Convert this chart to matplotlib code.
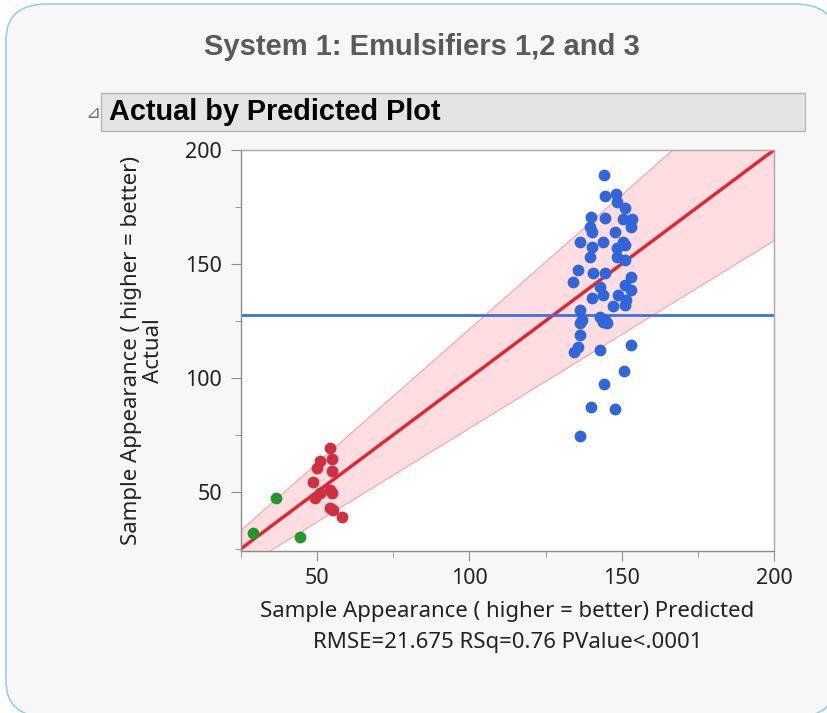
import matplotlib.pyplot as plt
import matplotlib.patches as mpatches
import numpy as np
from matplotlib.ticker import MultipleLocator

# Actual vs predicted, three emulsifier groups
green_pred = [28.9, 36.5, 44.4]
green_act = [31.9, 47.2, 30.1]

red_pred = [54.3, 54.8, 50.8, 50.1, 54.8, 48.8, 50.8, 49.3, 54.3, 54.8, 54.3, 55.3, 58.1]
red_act = [69.2, 64.3, 63.3, 60.4, 58.9, 54.5, 49.4, 47.2, 50.9, 49.4, 42.9, 42.1, 38.9]

blue_pred = [144.1, 144.4, 148.0, 148.4, 151.0, 139.8, 144.4, 150.5, 153.4, 153.2,
             139.5, 147.7, 140.1, 136.2, 143.9, 150.5, 140.1, 148.3, 151.0, 139.5,
             148.3, 151.0, 135.7, 140.6, 144.4, 153.2, 134.1, 142.8, 151.0, 153.2,
             143.9, 140.1, 148.8, 151.5, 147.2, 151.0, 136.2, 136.8, 142.8, 144.4,
             136.2, 143.9, 145.3, 136.2, 135.7, 134.4, 143.0, 153.2, 150.8, 144.1,
             139.8, 147.9, 136.2]
blue_act = [189.0, 179.8, 180.6, 177.3, 174.7, 170.8, 170.0, 169.6, 169.6, 166.4,
            166.4, 164.2, 164.2, 159.8, 159.8, 159.8, 157.6, 156.9, 158.3, 153.2,
            153.2, 151.8, 147.4, 145.9, 146.2, 144.4, 142.2, 140.0, 140.8, 138.6,
            136.4, 135.0, 136.4, 134.2, 131.6, 132.0, 129.8, 125.4, 126.9, 125.4,
            124.0, 124.7, 124.0, 118.9, 113.7, 111.3, 112.0, 114.5, 102.8, 97.4,
            87.1, 86.4, 74.3]

mean_actual = 127.6
# confidence band half-width at the ends of the x range
band_x = [25, 200]
band_half = [8.5, 39.5]

fig = plt.figure(figsize=(8.28, 7.13), dpi=100)
fig.patch.set_facecolor('white')

# rounded panel, running off the right and bottom edges
panel = mpatches.FancyBboxPatch((6 / 828, -4 / 713), 830 / 828, 713 / 713,
                                boxstyle='round,pad=0,rounding_size=0.05',
                                transform=fig.transFigure, facecolor='#f7f7f7',
                                edgecolor='#8fd3e6', linewidth=1.2, zorder=-3)
fig.patches.append(panel)

fig.text(0.51, 1 - 47 / 713, 'System 1: Emulsifiers 1,2 and 3', ha='center', va='center',
         fontsize=21, fontweight='bold', color='#5a5a5a', family='Liberation Sans')

# report header bar
bar = mpatches.Rectangle((101 / 828, 1 - 131 / 713), 704 / 828, 38 / 713,
                         transform=fig.transFigure, facecolor='#e4e4e4',
                         edgecolor='#b4b4b4', linewidth=1.0, zorder=-2)
fig.patches.append(bar)
fig.text(109 / 828, 1 - 112 / 713, 'Actual by Predicted Plot', ha='left', va='center',
         fontsize=20.8, fontweight='bold', color='black', family='Liberation Sans')
fig.text(93 / 828, 1 - 113 / 713, '\u22bf', ha='center', va='center',
         fontsize=13, color='#707070', family='DejaVu Sans')

ax = fig.add_axes([241 / 828, 1 - 551 / 713, 533 / 828, 401 / 713])
ax.set_facecolor('white')
ax.set_xlim(25, 200)
ax.set_ylim(24, 200)

bx = np.array(band_x, dtype=float)
bh = np.array(band_half, dtype=float)
ax.fill_between(bx, bx - bh, bx + bh, facecolor='#ffdde0', edgecolor='#f2a3aa',
                linewidth=0.8, zorder=1)
ax.plot(bx, bx, color='#e8222e', linewidth=2.4, zorder=2)
ax.axhline(mean_actual, color='#3f70e0', linewidth=2.0, zorder=2)

ax.scatter(green_pred, green_act, s=72, color='#1e9a2a', zorder=3, linewidths=0)
ax.scatter(red_pred, red_act, s=72, color='#d0303e', zorder=3, linewidths=0)
ax.scatter(blue_pred, blue_act, s=72, color='#2f66dc', zorder=3, linewidths=0)

for s in ax.spines.values():
    s.set_color('#a8a8a8')
    s.set_linewidth(1.0)
ax.spines['left'].set_color('#8c8c8c')
ax.spines['bottom'].set_color('#8c8c8c')

ax.set_xticks([50, 100, 150, 200])
ax.set_yticks([50, 100, 150, 200])
ax.xaxis.set_minor_locator(MultipleLocator(25))
ax.yaxis.set_minor_locator(MultipleLocator(25))
ax.tick_params(which='major', length=7, color='#8c8c8c', labelsize=15.5,
               labelcolor='#222222')
ax.tick_params(axis='x', which='major', pad=5)
ax.tick_params(axis='y', which='major', pad=6.5)
ax.tick_params(which='minor', length=4.5, color='#8c8c8c')
for lab in ax.get_xticklabels() + ax.get_yticklabels():
    lab.set_family('Noto Sans')

ax.set_xlabel('Sample Appearance ( higher = better) Predicted\nRMSE=21.675 RSq=0.76 PValue<.0001',
              fontsize=16, family='Noto Sans', color='#222222', linespacing=1.6)
ax.set_ylabel('Sample Appearance ( higher = better)\nActual',
              fontsize=16, family='Noto Sans', color='#222222', linespacing=1.05)
ax.xaxis.set_label_coords(0.5, -0.125)
ax.yaxis.set_label_coords(-0.145, 0.5)

fig.savefig('out.png', dpi=100, facecolor=fig.get_facecolor())
